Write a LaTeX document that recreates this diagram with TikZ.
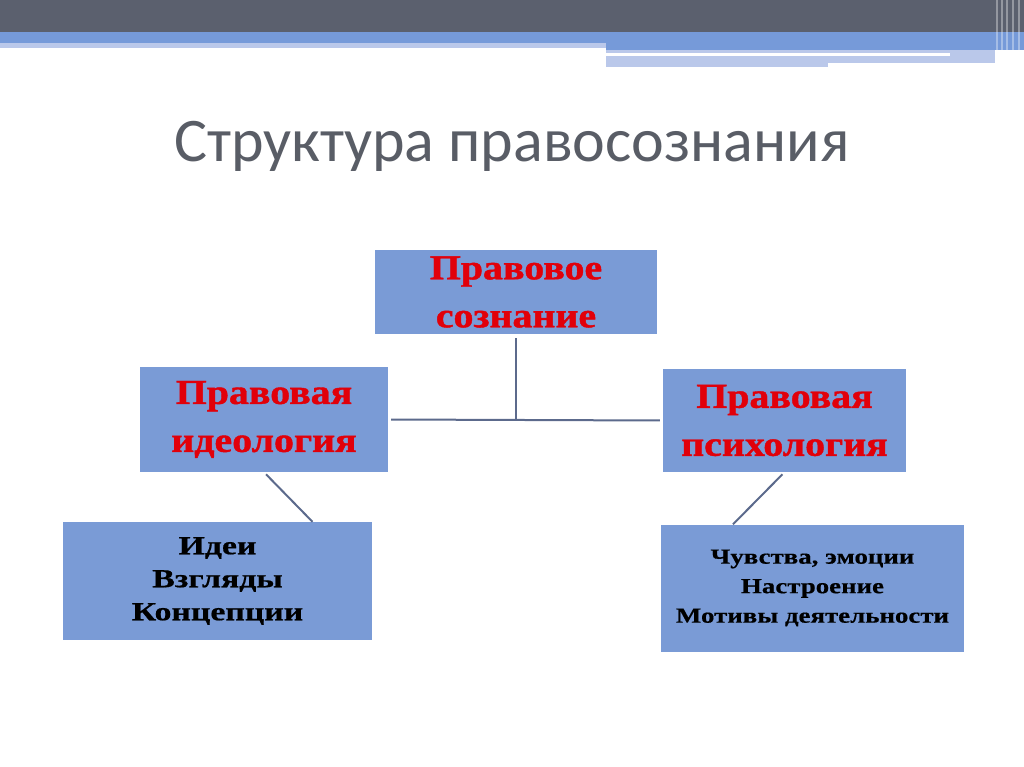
\documentclass[tikz,border=0pt]{standalone}
\usepackage{fontspec}
\setmainfont{Liberation Serif}
\newfontfamily\boxfont[FakeStretch=1.14,FakeBold=1.2]{Liberation Serif}
\newfontfamily\smallboxfont[FakeStretch=1.3,FakeBold=0.6]{Liberation Serif}
\newfontfamily\feelfont[FakeStretch=1.25,FakeBold=0.5]{Liberation Serif}
\newfontfamily\titlefont{Carlito}
\definecolor{boxblue}{RGB}{122,155,214}
\definecolor{bardark}{RGB}{91,96,110}
\definecolor{barblue}{RGB}{118,154,217}
\definecolor{barlight}{RGB}{186,200,234}
\definecolor{linegray}{RGB}{92,106,140}
\definecolor{titlegray}{RGB}{89,93,102}
\definecolor{boxred}{RGB}{225,0,10}
\begin{document}
\begin{tikzpicture}[x=1pt,y=-1pt,
  box/.style={fill=boxblue,inner sep=0pt,align=center},
  redtext/.style={text=boxred,font=\boxfont\bfseries\fontsize{35}{48}\selectfont},
  conn/.style={draw=linegray,line width=2pt}]
\useasboundingbox (0,0) rectangle (1024,767);
%top bar
\fill[bardark] (0,0) rectangle (1024,32);
\fill[barblue] (0,32) rectangle (1024,43);
\fill[barlight] (0,43) rectangle (606,48);
\fill[barblue] (606,43) rectangle (1024,50);
\fill[barlight] (606,50) rectangle (995,67);
\fill[white] (606,53) rectangle (950,56);
\fill[white] (828,63) rectangle (995,67);
\foreach \x in {996,1001,1006,1012,1018}
  \fill[white,opacity=0.35] (\x,0) rectangle (\x+2,67);
%title
\node[text=titlegray,font=\titlefont\fontsize{62}{70}\selectfont] (title) at (512,146) {Структура правосознания};
%boxes
\node[box,redtext,minimum width=282,minimum height=84] (pravsozn) at (516,292) {Правовое\\сознание};
\node[box,redtext,minimum width=248,minimum height=105] (ideo) at (264,419.5) {Правовая\\идеология};
\node[box,redtext,minimum width=243,minimum height=103] (psych) at (784.5,420.5) {Правовая\\психология};
\node[box,font=\smallboxfont\bfseries\fontsize{26}{33}\selectfont,minimum width=309,minimum height=118] (ideas) at (217.5,581) {Идеи\\Взгляды\\Концепции};
\node[box,font=\feelfont\bfseries\fontsize{21.5}{29.5}\selectfont,minimum width=303,minimum height=127] (feel) at (812.5,588) {Чувства, эмоции\\Настроение\\Мотивы деятельности};
%connectors
\draw[conn,shorten <=4pt] (pravsozn.south) -- (pravsozn.south |- ideo.east);
\draw[conn,shorten <=3pt,shorten >=3pt] (ideo.east) -- (psych.west);
\draw[conn,shorten <=3pt] (ideo.south) -- ([xshift=95]ideas.north);
\draw[conn,shorten <=3pt] (psych.south) -- ([xshift=-79.5]feel.north);
\end{tikzpicture}
\end{document}
